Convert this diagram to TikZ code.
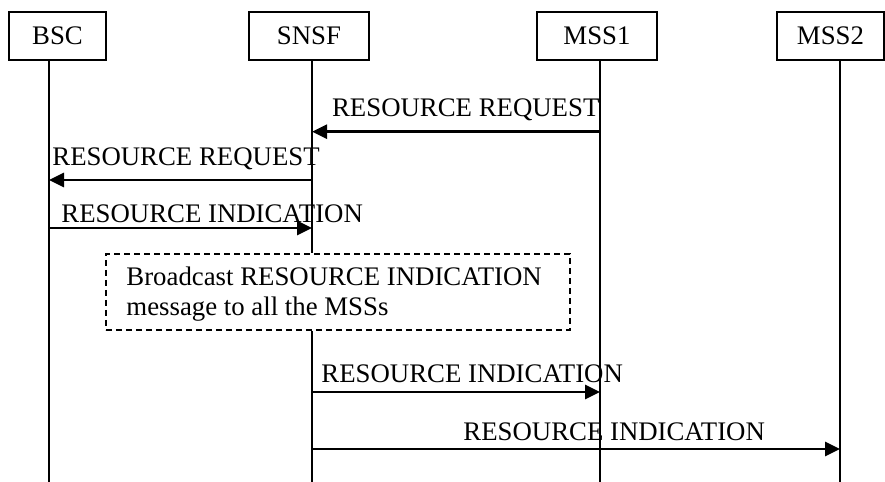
\documentclass[tikz,border=0pt]{standalone}
\usepackage{fontspec}
\setmainfont{Liberation Serif}
\usetikzlibrary{arrows.meta}
\begin{document}
\begin{tikzpicture}[x=0.5pt,y=-0.5pt,
  ent/.style={draw, line width=1pt, minimum height=24pt, inner sep=0pt, font=\fontsize{13.4}{16}\selectfont},
  life/.style={line width=1pt},
  msg/.style={line width=1.3pt, -{Triangle[length=7.5pt,width=7pt]}},
  lbl/.style={inner sep=0pt, anchor=base west, font=\fontsize{13.4}{16}\selectfont},
  bbox/.style={draw, line width=0.9pt, dash pattern=on 3pt off 2pt, minimum width=232pt, minimum height=38pt, anchor=north west, inner sep=0pt}
]
\useasboundingbox (0,0) rectangle (885,482);
% entities
\node[ent, minimum width=48.5pt] (bsc) at (57.5,36) {BSC};
\node[ent, minimum width=60pt] (snsf) at (309,36) {SNSF};
\node[ent, minimum width=60pt] (mss1) at (597,36) {MSS1};
\node[ent, minimum width=53.5pt] (mss2) at (830.5,36) {MSS2};
% lifeline ends
\coordinate (bscT) at (49,60);   \coordinate (bscB) at (49,482);
\coordinate (snsfT) at (312,60); \coordinate (snsfB) at (312,482);
\coordinate (mss1T) at (600,60); \coordinate (mss1B) at (600,482);
\coordinate (mss2T) at (840,60); \coordinate (mss2B) at (840,482);
% broadcast box
\node[bbox] (bcast) at (105,253) {};
\node[lbl] (bt1) at (126,285) {Broadcast RESOURCE INDICATION};
\node[lbl] (bt2) at (126,315) {message to all the MSSs};
% lifelines
\draw[life] (bscT) -- (bscB);
\draw[life] (snsfT) -- (bcast.north -| snsfT);
\draw[life] (bcast.south -| snsfT) -- (snsfB);
\draw[life] (mss1T) -- (mss1B);
\draw[life] (mss2T) -- (mss2B);
% messages
\coordinate (m1s) at (600,131.7); \coordinate (m1e) at (312,131.7);
\draw[msg] (m1s) -- (m1e);
\node[lbl] (l1) at (331.7,116.7) {RESOURCE REQUEST};
\coordinate (m2s) at (312,180); \coordinate (m2e) at (49,180);
\draw[msg] (m2s) -- (m2e);
\node[lbl] (l2) at (52,165) {RESOURCE REQUEST};
\coordinate (m3s) at (49,228); \coordinate (m3e) at (312,228);
\draw[msg] (m3s) -- (m3e);
\node[lbl] (l3) at (61,222) {RESOURCE INDICATION};
\coordinate (m4s) at (312,392); \coordinate (m4e) at (600,392);
\draw[msg] (m4s) -- (m4e);
\node[lbl] (l4) at (321,382.7) {RESOURCE INDICATION};
\coordinate (m5s) at (312,449); \coordinate (m5e) at (840,449);
\draw[msg] (m5s) -- (m5e);
\node[lbl] (l5) at (463,440) {RESOURCE INDICATION};
\end{tikzpicture}
\end{document}
